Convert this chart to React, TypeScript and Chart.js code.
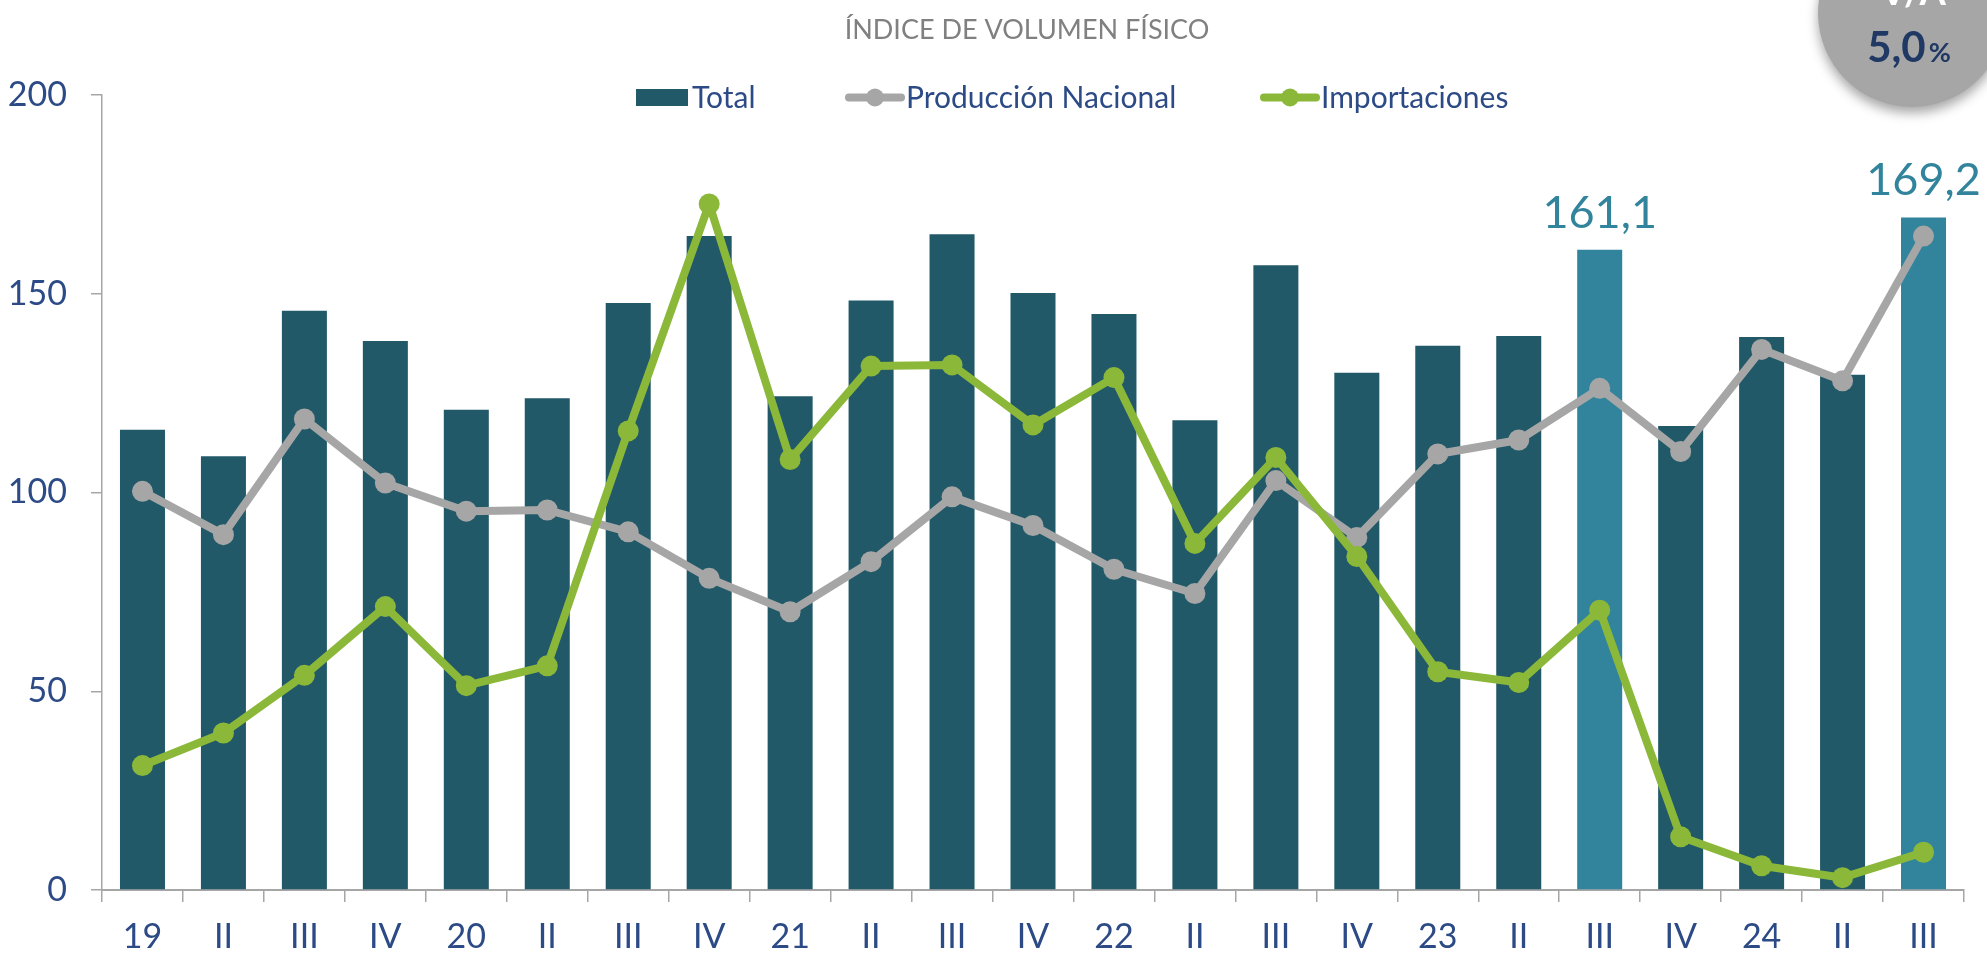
import React, { useEffect, useRef } from 'react';
import { Chart, registerables } from 'chart.js';

Chart.register(...registerables);

const categories = ['19', 'II', 'III', 'IV', '20', 'II', 'III', 'IV', '21', 'II', 'III', 'IV', '22', 'II', 'III', 'IV', '23', 'II', 'III', 'IV', '24', 'II', 'III'];
const totalValues = [115.8, 109.1, 145.7, 138.1, 120.8, 123.7, 147.7, 164.5, 124.2, 148.3, 165.0, 150.2, 144.9, 118.2, 157.2, 130.1, 136.9, 139.4, 161.1, 116.7, 139.1, 129.6, 169.2];
const produccionValues = [100.3, 89.4, 118.5, 102.4, 95.3, 95.6, 90.1, 78.4, 70.0, 82.6, 98.9, 91.7, 80.7, 74.6, 103.0, 88.7, 109.7, 113.2, 126.2, 110.3, 136.0, 128.1, 164.5];
const importacionesValues = [31.3, 39.5, 54.0, 71.3, 51.4, 56.4, 115.5, 172.6, 108.3, 131.8, 132.1, 117.0, 128.9, 87.2, 108.8, 83.9, 54.9, 52.2, 70.4, 13.4, 6.1, 3.1, 9.5];
const highlightIndices = [18, 22];
const yTicks = [0, 50, 100, 150, 200];
const seriesNames = ['Total', 'Producción Nacional', 'Importaciones'];
const chartTitle = 'ÍNDICE DE VOLUMEN FÍSICO';
const badgeLabel = 'V/A';
const badgeValue = '5,0';
const badgeUnit = '%';

const NAVY = '#2C4A85';
const BAR_DARK = '#215968';
const BAR_LIGHT = '#31849B';
const GRAY = '#A6A6A6';
const GREEN = '#8CB83A';
const AXIS = '#A6A6A6';

const fmt = (v: number) => v.toFixed(1).replace('.', ',');

const decorPlugin = {
  id: 'decor',
  afterDraw(chart: any) {
    const ctx = chart.ctx as CanvasRenderingContext2D;
    ctx.save();

    // Title
    ctx.fillStyle = '#808080';
    ctx.font = '27px Lato';
    ctx.textAlign = 'center';
    ctx.textBaseline = 'alphabetic';
    ctx.fillText(chartTitle, 1027, 39);

    // Legend
    const ds = chart.data.datasets;
    const legendY = 97.5;
    ctx.font = '30px Lato';
    ctx.textAlign = 'left';
    ctx.textBaseline = 'middle';
    ctx.fillStyle = BAR_DARK;
    ctx.fillRect(636, 89, 52, 17);
    ctx.fillStyle = NAVY;
    ctx.fillText(ds[0].label, 692, legendY + 1);
    const lineItem = (x0: number, color: string, label: string) => {
      ctx.strokeStyle = color;
      ctx.lineWidth = 8;
      ctx.lineCap = 'round';
      ctx.beginPath();
      ctx.moveTo(x0 + 4, legendY);
      ctx.lineTo(x0 + 56, legendY);
      ctx.stroke();
      ctx.fillStyle = color;
      ctx.beginPath();
      ctx.arc(x0 + 30, legendY, 9, 0, Math.PI * 2);
      ctx.fill();
      ctx.fillStyle = NAVY;
      ctx.fillText(label, x0 + 61, legendY + 1);
    };
    lineItem(845, ds[1].borderColor, ds[1].label);
    lineItem(1260, ds[2].borderColor, ds[2].label);

    // Data labels on highlighted bars
    const meta = chart.getDatasetMeta(0);
    ctx.fillStyle = BAR_LIGHT;
    ctx.font = '45px Lato';
    ctx.textAlign = 'center';
    ctx.textBaseline = 'alphabetic';
    highlightIndices.forEach((i) => {
      const el = meta.data[i];
      ctx.fillText(fmt(totalValues[i]), el.x, el.y - 22);
    });

    // Badge circle
    ctx.save();
    ctx.shadowColor = 'rgba(0,0,0,0.35)';
    ctx.shadowBlur = 12;
    ctx.shadowOffsetY = 6;
    ctx.fillStyle = '#A6A6A6';
    ctx.beginPath();
    ctx.arc(1912, 13, 94, 0, Math.PI * 2);
    ctx.fill();
    ctx.restore();

    ctx.fillStyle = '#FFFFFF';
    ctx.font = 'bold 38px Lato';
    ctx.textAlign = 'center';
    ctx.fillText(badgeLabel, 1913, 5);

    ctx.fillStyle = '#1F3864';
    ctx.font = 'bold 42px Lato';
    ctx.textAlign = 'left';
    const w1 = ctx.measureText(badgeValue).width;
    ctx.font = 'bold 27px Lato';
    const w2 = ctx.measureText(badgeUnit).width;
    const startX = 1909 - (w1 + w2 + 3) / 2;
    ctx.font = 'bold 42px Lato';
    ctx.fillText(badgeValue, startX, 62);
    ctx.font = 'bold 27px Lato';
    ctx.fillText(badgeUnit, startX + w1 + 3, 62);

    ctx.restore();
  },
};

export default function App() {
  const canvasRef = useRef<HTMLCanvasElement | null>(null);

  useEffect(() => {
    const canvas = canvasRef.current;
    if (!canvas) return;
    const chart = new Chart(canvas, {
      type: 'bar',
      data: {
        labels: categories,
        datasets: [
          {
            type: 'bar',
            label: seriesNames[0],
            data: totalValues,
            backgroundColor: categories.map((_, i) => (highlightIndices.includes(i) ? BAR_LIGHT : BAR_DARK)),
            categoryPercentage: 1,
            barPercentage: 0.556,
            order: 3,
          } as any,
          {
            type: 'line',
            label: seriesNames[1],
            data: produccionValues,
            borderColor: GRAY,
            backgroundColor: GRAY,
            borderWidth: 8,
            borderJoinStyle: 'round',
            pointRadius: 10.5,
            pointBorderWidth: 0,
            pointBackgroundColor: GRAY,
            tension: 0,
            order: 2,
          } as any,
          {
            type: 'line',
            label: seriesNames[2],
            data: importacionesValues,
            borderColor: GREEN,
            backgroundColor: GREEN,
            borderWidth: 8,
            borderJoinStyle: 'round',
            pointRadius: 10.5,
            pointBorderWidth: 0,
            pointBackgroundColor: GREEN,
            tension: 0,
            order: 1,
          } as any,
        ],
      },
      options: {
        responsive: false,
        animation: false,
        layout: { padding: { top: 95, right: 23, left: 0, bottom: 0 } },
        plugins: {
          legend: { display: false },
          title: { display: false },
          tooltip: { enabled: false },
        },
        scales: {
          x: {
            grid: {
              display: true,
              drawOnChartArea: false,
              drawTicks: true,
              tickLength: 12,
              color: AXIS,
              lineWidth: 1.5,
              offset: true,
            },
            border: { display: true, color: AXIS, width: 2 },
            ticks: {
              color: NAVY,
              font: { family: 'Lato', size: 34 },
              padding: 15,
              autoSkip: false,
              maxRotation: 0,
              minRotation: 0,
            },
            afterFit: (s: any) => {
              s.height = 63;
            },
          },
          y: {
            min: 0,
            max: 200,
            afterBuildTicks: (s: any) => {
              s.ticks = yTicks.map((v) => ({ value: v }));
            },
            grid: {
              drawOnChartArea: false,
              drawTicks: true,
              tickLength: 11,
              color: AXIS,
              lineWidth: 1.5,
            },
            border: { display: true, color: AXIS, width: 1.5 },
            ticks: {
              color: NAVY,
              font: { family: 'Lato', size: 34 },
              padding: 24,
            },
            afterFit: (s: any) => {
              s.width = 102;
            },
          },
        },
      } as any,
      plugins: [decorPlugin],
    });
    return () => chart.destroy();
  }, []);

  return (
    <div style={{ position: 'absolute', left: 0, top: 0, width: 1987, height: 953, background: '#fff' }}>
      <canvas ref={canvasRef} width={1987} height={953} style={{ display: 'block' }} />
    </div>
  );
}
